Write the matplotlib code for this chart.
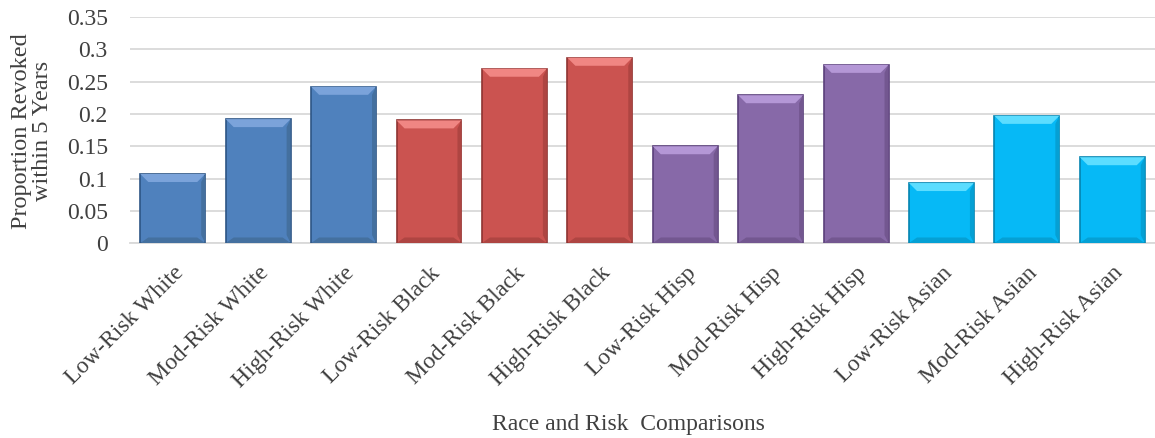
import matplotlib.pyplot as plt
from matplotlib.patches import Polygon
import numpy as np

categories = ['Low-Risk White', 'Mod-Risk White', 'High-Risk White',
              'Low-Risk Black', 'Mod-Risk Black', 'High-Risk Black',
              'Low-Risk Hisp', 'Mod-Risk Hisp', 'High-Risk Hisp',
              'Low-Risk Asian', 'Mod-Risk Asian', 'High-Risk Asian']
values = [0.107, 0.192, 0.242, 0.190, 0.270, 0.287,
          0.150, 0.229, 0.276, 0.093, 0.197, 0.133]
face_colors = ['#4F81BD'] * 3 + ['#CB5350'] * 3 + ['#8769A8'] * 3 + ['#06B9F6'] * 3
edge_colors = ['#2D5585'] * 3 + ['#8E3331'] * 3 + ['#5A3F7A'] * 3 + ['#0484B0'] * 3
top_colors = ['#7BA3DA'] * 3 + ['#F08683'] * 3 + ['#B497D6'] * 3 + ['#5CDDFF'] * 3
dark_colors = ['#44709F'] * 3 + ['#AE4542'] * 3 + ['#735790'] * 3 + ['#05A0D4'] * 3

plt.rcParams['font.family'] = ['Liberation Serif', 'DejaVu Serif']

fig = plt.figure(figsize=(11.55, 4.38), dpi=100)
ax = fig.add_axes([0.1126, 0.445, 0.8874, 0.516])

x = np.arange(len(categories))
bars = ax.bar(x, values, width=0.76, color=face_colors, edgecolor=edge_colors,
              linewidth=1.2, zorder=3)

ax.set_ylim(0, 0.35)
ax.set_xlim(-0.5, len(categories) - 0.5)

# bevel look: light top, dark bottom and right side
dx = 8.0 / 85.4
dy = 8.0 / 645.7
for b, tc, dc in zip(bars, top_colors, dark_colors):
    x0, w, h = b.get_x(), b.get_width(), b.get_height()
    x1 = x0 + w
    top = Polygon([(x0, h), (x1, h), (x1 - dx, h - dy), (x0 + dx, h - dy)],
                  closed=True, facecolor=tc, edgecolor='none', zorder=4)
    bot = Polygon([(x0, 0), (x1, 0), (x1 - dx, dy * 0.7), (x0 + dx, dy * 0.7)],
                  closed=True, facecolor=dc, edgecolor='none', zorder=4)
    right = Polygon([(x1, 0), (x1, h), (x1 - dx * 0.5, h - dy), (x1 - dx * 0.5, dy)],
                    closed=True, facecolor=dc, edgecolor='none', zorder=4)
    for p in (top, bot, right):
        ax.add_patch(p)

ax.set_yticks(np.arange(0, 0.351, 0.05))
ax.set_yticklabels(['0', '0.05', '0.1', '0.15', '0.2', '0.25', '0.3', '0.35'],
                   fontsize=17, color='#404040')
ax.set_xticks(x)
ax.set_xticklabels(categories, rotation=45, ha='right', rotation_mode='anchor',
                   fontsize=17, color='#404040')
ax.tick_params(axis='y', length=0, pad=16)
ax.tick_params(axis='x', length=0, pad=14)

ax.grid(axis='y', color='#D9D9D9', linewidth=1.3, zorder=0)
for s in ['top', 'right', 'left']:
    ax.spines[s].set_visible(False)
ax.spines['bottom'].set_color('#D9D9D9')
ax.spines['bottom'].set_linewidth(1.3)

fig.text(0.028, 0.70, 'Proportion Revoked\nwithin 5 Years', rotation=90,
         ha='center', va='center', fontsize=17.5, color='#404040',
         linespacing=1.0, multialignment='center')
fig.text(0.544, 0.03, 'Race and Risk  Comparisons', ha='center', va='center',
         fontsize=17, color='#404040')

fig.savefig('out.png', dpi=100)
